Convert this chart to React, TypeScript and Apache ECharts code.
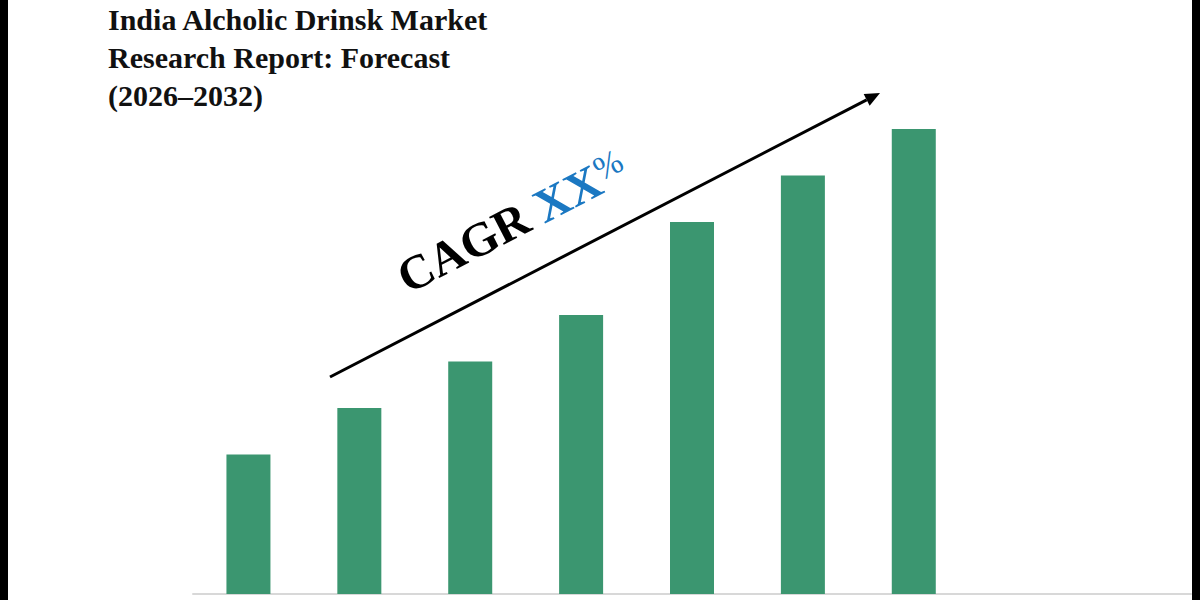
import React, { useEffect, useRef } from "react";
import * as echarts from "echarts";

const categories = ["2026", "2027", "2028", "2029", "2030", "2031", "2032", "", ""];
const marketValues = [1.5, 2.0, 2.5, 3.0, 4.0, 4.5, 5.0, null, null];
const titleLines = ["India Alcholic Drinsk Market", "Research Report: Forecast", "(2026–2032)"];

export default function App() {
  const ref = useRef<HTMLDivElement>(null);
  useEffect(() => {
    if (!ref.current) return;
    const chart = echarts.init(ref.current, null, { renderer: "svg" });
    const tip = [880, 93];
    const start = [330, 377];
    const dx = tip[0] - start[0];
    const dy = tip[1] - start[1];
    const len = Math.sqrt(dx * dx + dy * dy);
    const ux = dx / len, uy = dy / len;
    const nx = -uy, ny = ux;
    const headLen = 15, headW = 6.5;
    const bx = tip[0] - headLen * ux, by = tip[1] - headLen * uy;
    const angle = Math.atan2(-dy, dx);
    const serif = "'Liberation Serif', 'DejaVu Serif', serif";

    chart.setOption({
      animation: false,
      backgroundColor: "#ffffff",
      grid: { left: 193, right: 9, top: 129, bottom: 6 },
      xAxis: {
        type: "category",
        data: categories,
        axisLine: { show: true, lineStyle: { color: "#d8d8d8", width: 2 } },
        axisTick: { show: false },
        axisLabel: { show: false },
      },
      yAxis: {
        type: "value",
        min: 0,
        max: 5,
        show: false,
        splitLine: { show: false },
      },
      series: [
        {
          type: "bar",
          data: marketValues,
          barWidth: 44,
          itemStyle: { color: "#3b9670" },
        },
      ],
      graphic: [
        ...titleLines.map((t, i) => ({
          type: "text",
          x: 108,
          y: 4 + i * 38,
          style: {
            text: t,
            fontFamily: serif,
            fontSize: 30,
            fontWeight: "bold",
            fill: "#111",
          },
        })),
        {
          type: "line",
          shape: { x1: start[0], y1: start[1], x2: bx, y2: by },
          style: { stroke: "#000", lineWidth: 3 },
        },
        {
          type: "polygon",
          shape: {
            points: [
              [tip[0], tip[1]],
              [bx + headW * nx, by + headW * ny],
              [bx - headW * nx, by - headW * ny],
            ],
          },
          style: { fill: "#000" },
        },
        {
          type: "text",
          x: 512,
          y: 222,
          rotation: angle,
          style: {
            text: "{a|CAGR }{b|XX}{c|%}",
            align: "center",
            verticalAlign: "middle",
            rich: {
              a: { fontFamily: serif, fontSize: 48, fontWeight: "bold", fill: "#000" },
              b: { fontFamily: serif, fontSize: 48, fontWeight: "bold", fill: "#1b78c2" },
              c: { fontFamily: serif, fontSize: 34, fill: "#1b78c2", padding: [0, 0, 14, 0] },
            },
          },
        },
      ],
    });
    return () => chart.dispose();
  }, []);
  return (
    <div style={{ position: "fixed", left: 0, top: 0, width: 1200, height: 600 }}>
      <div ref={ref} style={{ position: "absolute", left: 0, top: 0, width: 1200, height: 600 }} />
      <div style={{ position: "absolute", left: 0, top: 0, width: 8, height: 600, background: "#000" }} />
      <div style={{ position: "absolute", left: 1192, top: 0, width: 8, height: 600, background: "#000" }} />
    </div>
  );
}
